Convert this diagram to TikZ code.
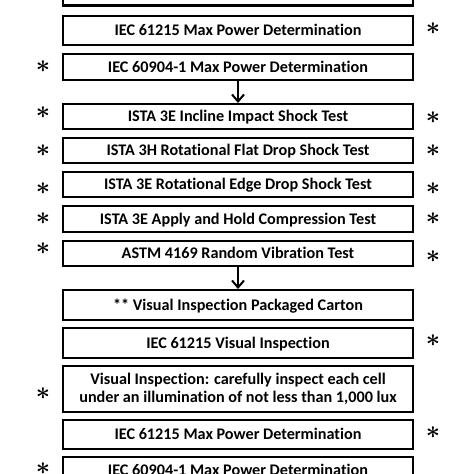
\documentclass[tikz,border=0pt]{standalone}
\usepackage{fontspec}
\setmainfont{Carlito}[Ligatures=NoCommon]
\usetikzlibrary{arrows.meta, positioning}

\begin{document}
\begin{tikzpicture}[x=1pt, y=-1pt,
        % STYLES
        test/.style={rectangle, draw=black, line width=2.4pt, minimum width=349.6pt, align=center, inner sep=0pt, text height=10.4pt, text depth=0pt, font=\fontsize{16.2}{18.5}\selectfont\bfseries},
        asterisk/.style={inner sep=0pt, font=\fontsize{27}{27}\selectfont\boldmath},
        % ARROWS
        flow/.style={-{Straight Barb[length=7pt, width=12pt]}, line width=2pt, black}
    ]
    \useasboundingbox (0,0) rectangle (474,474);
    \clip (0,0) rectangle (474,474);

    % ===================================
    % 1. Test sequence
    % ===================================
    \node[test, minimum height=26.6pt] (t0) at (238, -8) {};
    \node[test, minimum height=28.6pt] (t1) at (238, 30.5) {IEC 61215 Max Power Determination};
    \node[test, minimum height=25.6pt] (t2) at (238, 67) {IEC 60904-1 Max Power Determination};
    \node[test, minimum height=24.6pt] (t3) at (238, 116.5) {ISTA 3E Incline Impact Shock Test};
    \node[test, minimum height=24.6pt] (t4) at (238, 150.5) {ISTA 3H Rotational Flat Drop Shock Test};
    \node[test, minimum height=24.6pt] (t5) at (238, 184.5) {ISTA 3E Rotational Edge Drop Shock Test};
    \node[test, minimum height=25.6pt] (t6) at (238, 219) {ISTA 3E Apply and Hold Compression Test};
    \node[test, minimum height=24.6pt] (t7) at (238, 253.5) {ASTM 4169 Random Vibration Test};
    \node[test, minimum height=29.6pt] (t8) at (238, 305) {** Visual Inspection Packaged Carton};
    \node[test, minimum height=29.6pt] (t9) at (238, 343) {IEC 61215 Visual Inspection};
    \node[test, minimum height=45.6pt, text height=, text depth=] (t10) at (238, 389) {Visual Inspection: carefully inspect each cell\\under an illumination of not less than 1,000 lux};
    \node[test, minimum height=28.6pt] (t11) at (238, 434.5) {IEC 61215 Max Power Determination};
    \node[test, minimum height=25.6pt] (t12) at (238, 470) {IEC 60904-1 Max Power Determination};

    % Flèches entre les blocs
    \draw[flow] (t2) -- (t3);
    \draw[flow] (t7) -- (t8);

    % ===================================
    % 2. Asterisks (left and right)
    % ===================================
    \node[asterisk] (l2) at (43, 67) {$\ast$};
    \node[asterisk] (l3) at (43, 113) {$\ast$};
    \node[asterisk] (l4) at (43, 151) {$\ast$};
    \node[asterisk] (l5) at (43, 189) {$\ast$};
    \node[asterisk] (l6) at (43, 219) {$\ast$};
    \node[asterisk] (l7) at (43, 249) {$\ast$};
    \node[asterisk] (l10) at (43, 394) {$\ast$};
    \node[asterisk] (l12) at (43, 469) {$\ast$};

    \node[asterisk] (r1) at (433, 29) {$\ast$};
    \node[asterisk] (r3) at (433, 118) {$\ast$};
    \node[asterisk] (r4) at (433, 151) {$\ast$};
    \node[asterisk] (r5) at (433, 189) {$\ast$};
    \node[asterisk] (r6) at (433, 219) {$\ast$};
    \node[asterisk] (r7) at (433, 257) {$\ast$};
    \node[asterisk] (r9) at (433, 341) {$\ast$};
    \node[asterisk] (r11) at (433, 433) {$\ast$};

\end{tikzpicture}
\end{document}
